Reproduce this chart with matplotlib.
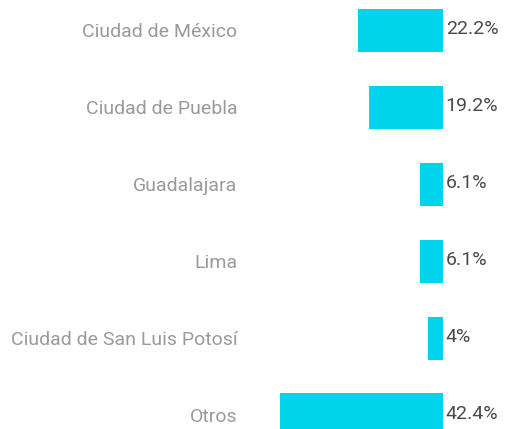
import matplotlib
matplotlib.use("Agg")
import matplotlib.pyplot as plt

# Share of records by city
cities = ["Ciudad de México", "Ciudad de Puebla", "Guadalajara", "Lima",
          "Ciudad de San Luis Potosí", "Otros"]
shares = [22.2, 19.2, 6.1, 6.1, 4.0, 42.4]
share_labels = ["22.2%", "19.2%", "6.1%", "6.1%", "4%", "42.4%"]

plt.rcParams['font.family'] = ['Roboto', 'DejaVu Sans']

W, H = 507, 429
fig = plt.figure(figsize=(W / 100, H / 100), dpi=100)

# axes in pixel coordinates: zero line sits at x=443
left_px, right_px = 250, 443
ax = fig.add_axes([left_px / W, 0, (right_px - left_px) / W, 1])

px_per_pct = 3.84
ax.set_xlim((right_px - left_px) / px_per_pct, 0)

step = 76.9
ax.set_ylim(5 + 14 / step, -30.5 / step)

ypos = list(range(len(cities)))
ax.barh(ypos, shares, height=0.56, color="#00d4ea")

for y, v, lab in zip(ypos, shares, share_labels):
    ax.annotate(lab, xy=(0, y), xytext=(2, 1), textcoords="offset points",
                ha="left", va="center", fontsize=14, color="#4a4a4a")

ax.set_yticks(ypos)
ax.set_yticklabels(cities, fontsize=14, color="#9a9a9a")
ax.tick_params(axis="y", length=0, pad=9)
ax.set_xticks([])
for s in ax.spines.values():
    s.set_visible(False)
ax.patch.set_alpha(0)

fig.savefig("out.png", dpi=100, facecolor="white")
